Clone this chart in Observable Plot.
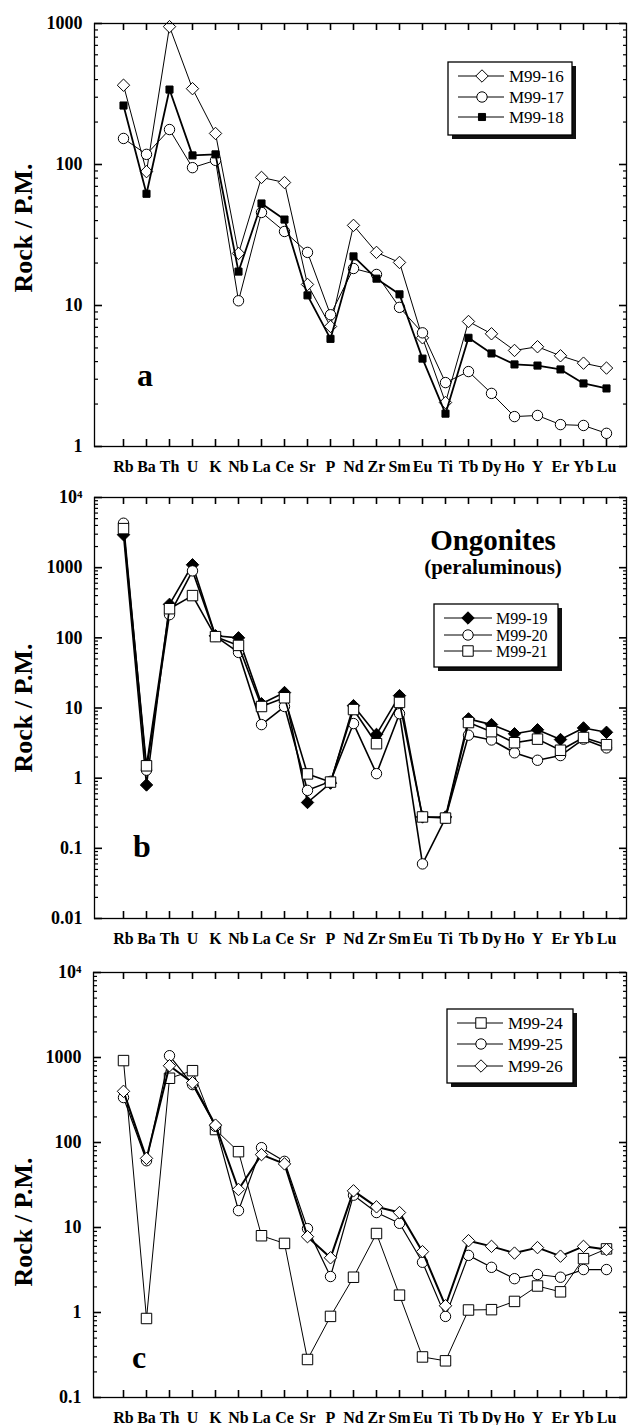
<!DOCTYPE html>
<html>
<head>
<meta charset="utf-8">
<script src="https://cdn.jsdelivr.net/npm/d3@7"></script>
<script src="https://cdn.jsdelivr.net/npm/@observablehq/plot@0.6"></script>
<style>
  body { margin: 0; background: #fff; }
  #chart { width: 628px; }
  #chart svg { display: block; }
</style>
</head>
<body>
<div id="chart"></div>
<script>
// Trace elements, primitive-mantle normalised (Rock / P.M.)
const elements = ["Rb","Ba","Th","U","K","Nb","La","Ce","Sr","P","Nd","Zr","Sm","Eu","Ti","Tb","Dy","Ho","Y","Er","Yb","Lu"];

// Panel a
const m9916 = [365, 89, 950, 345, 166, 23.4, 81, 74.5, 14.1, 7.1, 37, 23.8, 20.2, 5.9, 2.05, 7.7, 6.3, 4.8, 5.1, 4.4, 3.9, 3.6];
const m9917 = [153, 118, 177, 95, 107, 10.8, 45.7, 33.5, 23.8, 8.6, 18.3, 16.6, 9.7, 6.4, 2.84, 3.4, 2.38, 1.63, 1.66, 1.43, 1.41, 1.24];
const m9918 = [262, 62, 340, 116, 118, 17.4, 52.9, 40.7, 11.8, 5.8, 22.3, 15.5, 12.0, 4.2, 1.71, 5.9, 4.57, 3.82, 3.75, 3.52, 2.80, 2.58];

// Panel b – ongonites (peraluminous)
const m9919 = [2950, 0.8, 300, 1100, 107, 100, 11.5, 16.6, 0.45, 0.85, 10.8, 4.2, 15, 0.28, 0.28, 7.0, 5.8, 4.3, 4.9, 3.55, 5.2, 4.5];
const m9920 = [4300, 1.3, 214, 900, 105, 62, 5.8, 10.5, 0.67, 0.9, 6.0, 1.16, 8.3, 0.06, 0.27, 4.1, 3.5, 2.3, 1.8, 2.1, 3.6, 2.7];
const m9921 = [3600, 1.5, 260, 400, 104, 78, 10.5, 14, 1.15, 0.88, 9.5, 3.1, 12, 0.28, 0.27, 6.2, 4.6, 3.2, 3.6, 2.5, 3.8, 3.0];

// Panel c
const m9924 = [920, 0.85, 570, 700, 142, 78, 8.0, 6.5, 0.28, 0.9, 2.6, 8.5, 1.6, 0.30, 0.27, 1.07, 1.08, 1.35, 2.05, 1.75, 4.3, 5.6];
const m9925 = [338, 61, 1050, 480, 155, 15.8, 87, 60, 9.7, 2.65, 24, 15, 11.2, 3.9, 0.9, 4.7, 3.4, 2.5, 2.8, 2.6, 3.2, 3.2];
const m9926 = [400, 65, 800, 505, 160, 28, 72, 56, 7.8, 4.4, 27, 17.5, 15, 5.2, 1.2, 7.0, 6.0, 5.0, 5.8, 4.6, 6.0, 5.5];

// Major tick labels of the log axes
const ticksA = [1, 10, 100, 1000];
const ticksB = [0.01, 0.1, 1, 10, 100, 1000, 10000];
const ticksC = [0.1, 1, 10, 100, 1000, 10000];
const tickLabel = v => v === 10000 ? "10\u2074" : String(v);

const FONT = "'Liberation Serif', 'Times New Roman', serif";
const WIDTH = 628, MARGIN_RIGHT = 2;

function minorTicks(majors) {
  const out = [];
  for (let i = 0; i < majors.length - 1; i++)
    for (let k = 2; k <= 9; k++) out.push(+(majors[i] * k).toPrecision(3));
  return out;
}

function panel(cfg) {
  const minors = minorTicks(cfg.majors);
  const plotW = WIDTH - cfg.left - MARGIN_RIGHT;
  const plotH = cfg.height - cfg.top - cfg.bottom;
  const id = d => d;

  // short inward tick marks along the four sides of the frame
  const yTicks = (values, len, side, sw) => Plot.tickY(values, {y: id, stroke: "black", strokeWidth: sw,
    [side === "left" ? "insetRight" : "insetLeft"]: plotW - len});
  const xTicks = (len, side) => Plot.tickX(elements, {x: id, stroke: "black", strokeWidth: 1.6,
    [side === "top" ? "insetBottom" : "insetTop"]: plotH - len});

  const marks = [
    yTicks(minors, 4, "left", 1.2),
    yTicks(cfg.majors, 8, "left", 1.6),
    yTicks(minors, 3, "right", 1.2),
    yTicks(cfg.majors, 7, "right", 1.6),
    xTicks(7, "top"),
    xTicks(7, "bottom"),
    Plot.axisY({anchor: "left", ticks: cfg.majors, tickSize: 0, tickPadding: 12,
      tickFormat: tickLabel, fontSize: 18, fontWeight: "bold", label: null}),
    Plot.axisX({anchor: "bottom", tickSize: 0, tickPadding: 14,
      fontSize: 16, fontWeight: "bold", label: null})
  ];
  for (const s of cfg.series) {
    const rows = elements.map((el, i) => ({sample: s.name, el, v: s.values[i]}));
    marks.push(Plot.line(rows, {x: "el", y: "v", stroke: "black", strokeWidth: s.lw}));
    marks.push(Plot.dot(rows, {x: "el", y: "v", symbol: s.symbol, r: s.r,
      fill: s.fill, stroke: "black", strokeWidth: 1}));
  }
  marks.push(Plot.frame({stroke: "black", strokeWidth: 1.3}));

  const svg = Plot.plot({
    width: WIDTH,
    height: cfg.height,
    marginTop: cfg.top,
    marginBottom: cfg.bottom,
    marginLeft: cfg.left,
    marginRight: MARGIN_RIGHT,
    style: {fontFamily: FONT, color: "black", background: "white"},
    x: {type: "point", domain: elements, range: [117, 611], padding: 0},
    y: {type: "log", domain: cfg.yDomain},
    marks
  });

  const g = d3.select(svg).append("g")
    .attr("font-family", FONT).attr("fill", "black").attr("text-anchor", "start");

  // axis title
  g.append("text")
    .attr("transform", `translate(${cfg.titleX},${cfg.titleY}) rotate(-90)`)
    .attr("text-anchor", "middle")
    .attr("font-size", 26).attr("font-weight", "bold")
    .text("Rock / P.M.");

  // panel letter
  g.append("text")
    .attr("x", cfg.letterX).attr("y", cfg.letterY)
    .attr("font-size", 32).attr("font-weight", "bold")
    .text(cfg.letter);

  // legend box with drop shadow
  const L = cfg.legend;
  const lg = g.append("g");
  lg.append("rect").attr("x", L.x + 4).attr("y", L.y + 4).attr("width", L.w).attr("height", L.h).attr("fill", "#111");
  lg.append("rect").attr("x", L.x).attr("y", L.y).attr("width", L.w).attr("height", L.h)
    .attr("fill", "white").attr("stroke", "black").attr("stroke-width", 1.3);
  cfg.series.forEach((s, i) => {
    const y = L.rows[i];
    lg.append("line").attr("x1", L.lineX0).attr("x2", L.lineX1).attr("y1", y).attr("y2", y)
      .attr("stroke", "black").attr("stroke-width", 1);
    lg.append("path")
      .attr("transform", `translate(${L.markX},${y})`)
      .attr("d", d3.symbol(s.symbol, Math.PI * s.r * s.r)())
      .attr("fill", s.fill).attr("stroke", "black").attr("stroke-width", 1);
    lg.append("text").attr("x", L.textX).attr("y", y).attr("dy", "0.35em")
      .attr("text-anchor", "start")
      .attr("font-size", L.fontSize).text(s.name);
  });

  if (cfg.extra) cfg.extra(g);
  return svg;
}

const root = document.getElementById("chart");

root.append(panel({
  height: 478, top: 23, bottom: 32, left: 94,
  yDomain: [1, 1000], majors: ticksA,
  titleX: 32, titleY: 228,
  letter: "a", letterX: 137, letterY: 386,
  series: [
    {name: "M99-16", values: m9916, symbol: d3.symbolDiamond2, r: 5.6, fill: "white", lw: 1},
    {name: "M99-17", values: m9917, symbol: d3.symbolCircle, r: 5.2, fill: "white", lw: 1},
    {name: "M99-18", values: m9918, symbol: d3.symbolSquare, r: 4.0, fill: "black", lw: 1.8}
  ],
  legend: {x: 448, y: 62, w: 124, h: 73, rows: [76, 97, 117],
    lineX0: 458, lineX1: 504, markX: 482, textX: 509, fontSize: 17}
}));

root.append(panel({
  height: 474, top: 19, bottom: 34, left: 94,
  yDomain: [0.01, 10000], majors: ticksB,
  titleX: 32, titleY: 230,
  letter: "b", letterX: 133, letterY: 379,
  series: [
    {name: "M99-19", values: m9919, symbol: d3.symbolDiamond2, r: 5.6, fill: "black", lw: 1.6},
    {name: "M99-20", values: m9920, symbol: d3.symbolCircle, r: 5.2, fill: "white", lw: 1.6},
    {name: "M99-21", values: m9921, symbol: d3.symbolSquare, r: 5.9, fill: "white", lw: 1.6}
  ],
  legend: {x: 434, y: 126, w: 124, h: 63, rows: [140, 157, 173],
    lineX0: 444, lineX1: 492, markX: 468, textX: 496, fontSize: 16},
  extra: g => {
    g.append("text").attr("x", 493).attr("y", 72).attr("text-anchor", "middle")
      .attr("font-size", 29).attr("font-weight", "bold").text("Ongonites");
    g.append("text").attr("x", 493).attr("y", 96).attr("text-anchor", "middle")
      .attr("font-size", 21).attr("font-weight", "bold").text("(peraluminous)");
  }
}));

root.append(panel({
  height: 473, top: 20, bottom: 28, left: 93,
  yDomain: [0.1, 10000], majors: ticksC,
  titleX: 32, titleY: 270,
  letter: "c", letterX: 132, letterY: 416,
  series: [
    {name: "M99-24", values: m9924, symbol: d3.symbolSquare, r: 5.9, fill: "white", lw: 1},
    {name: "M99-25", values: m9925, symbol: d3.symbolCircle, r: 5.2, fill: "white", lw: 1.2},
    {name: "M99-26", values: m9926, symbol: d3.symbolDiamond2, r: 5.6, fill: "white", lw: 2}
  ],
  legend: {x: 447, y: 57, w: 126, h: 74, rows: [71, 92, 114],
    lineX0: 457, lineX1: 503, markX: 481, textX: 508, fontSize: 17}
}));
</script>
</body>
</html>
